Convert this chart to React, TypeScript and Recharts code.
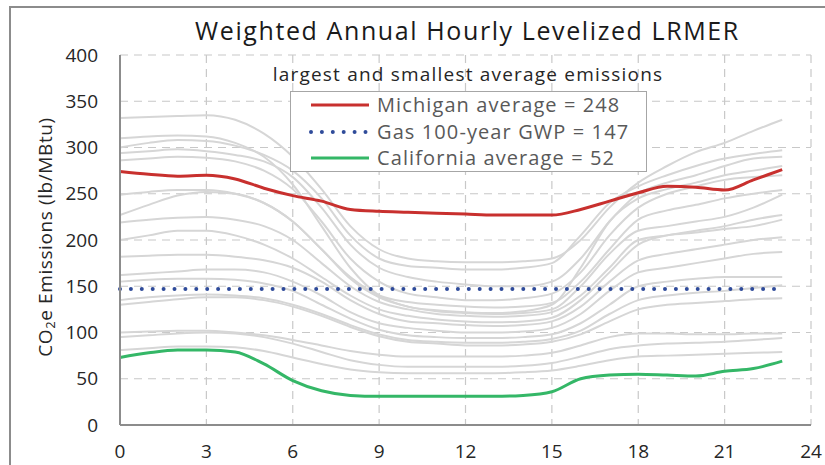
import React from 'react';
import {
  LineChart,
  Line,
  XAxis,
  YAxis,
  CartesianGrid,
  Legend,
} from 'recharts';

const hours = [0, 1, 2, 3, 4, 5, 6, 7, 8, 9, 10, 11, 12, 13, 14, 15, 16, 17, 18, 19, 20, 21, 22, 23];

const michigan = [274, 271, 269, 270, 266, 256, 248, 242, 233, 231, 230, 229, 228, 227, 227, 227, 233, 242, 251, 258, 257, 254, 265, 276];
const california = [73, 78, 81, 81, 79, 66, 48, 37, 32, 31, 31, 31, 31, 31, 32, 36, 50, 54, 55, 54, 53, 58, 61, 69];
const gasGwp = [147, 147, 147, 147, 147, 147, 147, 147, 147, 147, 147, 147, 147, 147, 147, 147, 147, 147, 147, 147, 147, 147, 147, 147];

// other states, drawn in light gray
const otherStates = [
  [332, 333, 334, 335, 330, 315, 290, 255, 215, 190, 180, 177, 176, 176, 177, 180, 200, 235, 262, 280, 295, 305, 318, 330],
  [310, 312, 313, 312, 305, 290, 260, 215, 170, 140, 128, 124, 122, 121, 123, 130, 170, 220, 245, 255, 262, 270, 275, 280],
  [300, 305, 308, 307, 302, 292, 275, 245, 205, 180, 172, 170, 168, 168, 170, 175, 205, 240, 258, 270, 280, 288, 293, 297],
  [294, 296, 298, 296, 292, 285, 268, 235, 195, 170, 160, 155, 152, 150, 150, 155, 180, 220, 250, 262, 270, 280, 288, 290],
  [286, 288, 290, 289, 285, 275, 255, 220, 180, 155, 142, 138, 135, 135, 137, 142, 165, 205, 235, 250, 258, 265, 268, 270],
  [249, 252, 254, 254, 250, 240, 220, 190, 160, 140, 133, 130, 128, 127, 128, 132, 155, 190, 222, 232, 238, 245, 250, 254],
  [227, 238, 248, 252, 250, 240, 220, 190, 158, 138, 128, 123, 121, 120, 121, 125, 150, 185, 210, 215, 220, 225, 235, 249],
  [219, 222, 224, 225, 222, 215, 200, 175, 150, 133, 125, 120, 118, 117, 118, 122, 140, 170, 200, 205, 210, 215, 222, 227],
  [200, 205, 210, 210, 205, 195, 180, 160, 140, 125, 118, 114, 112, 111, 112, 116, 135, 165, 195, 205, 208, 212, 215, 222],
  [182, 183, 184, 184, 182, 178, 170, 155, 135, 120, 112, 110, 108, 107, 108, 112, 128, 155, 178, 185, 190, 195, 200, 203],
  [162, 164, 166, 168, 168, 165, 155, 140, 122, 110, 105, 102, 100, 100, 101, 105, 120, 145, 165, 170, 175, 180, 185, 187],
  [155, 157, 158, 158, 157, 153, 145, 130, 115, 103, 97, 95, 94, 94, 95, 98, 110, 130, 150, 155, 158, 160, 160, 160],
  [135, 138, 140, 141, 140, 137, 130, 120, 108, 98, 92, 90, 89, 89, 90, 93, 102, 120, 135, 140, 143, 145, 148, 151],
  [130, 133, 136, 138, 138, 135, 128, 118, 106, 96, 90, 88, 86, 86, 87, 90, 98, 112, 125, 130, 132, 134, 136, 137],
  [100, 101, 102, 102, 100, 97, 92, 86, 80, 76, 74, 74, 74, 74, 75, 78, 86, 95, 99, 99, 98, 98, 99, 99],
  [95, 97, 99, 100, 99, 95, 88, 79, 70, 65, 63, 63, 63, 63, 64, 67, 74, 82, 86, 88, 89, 90, 92, 94],
  [81, 83, 85, 85, 84, 80, 73, 66, 60, 57, 56, 56, 56, 56, 57, 59, 64, 70, 74, 75, 76, 77, 78, 79],
];

const xTicks = [0, 3, 6, 9, 12, 15, 18, 21, 24];
const yTicks = [0, 50, 100, 150, 200, 250, 300, 350, 400];

const FONT = '"Open Sans", Lato, sans-serif';
const RED = '#C8302E';
const BLUE = '#2F4B9A';
const GREEN = '#34B767';

const data = hours.map((h, i) => {
  const row: { [key: string]: number } = {
    hour: h,
    michigan: michigan[i],
    california: california[i],
    gas: gasGwp[i],
  };
  otherStates.forEach((s, j) => {
    row[`s${j}`] = s[i];
  });
  return row;
});

const legendItems = [
  { label: 'Michigan average = 248', color: RED, dotted: false },
  { label: 'Gas 100-year GWP = 147', color: BLUE, dotted: true },
  { label: 'California average = 52', color: GREEN, dotted: false },
];

function LegendBox() {
  return (
    <div style={{ width: 440, fontFamily: FONT }}>
      <div
        style={{
          fontSize: 19,
          letterSpacing: 1.2,
          lineHeight: '22px',
          color: '#262626',
          textAlign: 'center',
          marginBottom: 6,
          whiteSpace: 'nowrap',
        }}
      >
        largest and smallest average emissions
      </div>
      <div
        style={{
          marginLeft: 42,
          width: 357,
          height: 81,
          border: '1px solid #a6a6a6',
          background: '#fff',
          boxSizing: 'border-box',
        }}
      >
        {legendItems.map((it) => (
          <div key={it.label} style={{ display: 'flex', alignItems: 'center', height: 26.5 }}>
            <svg width={86} height={10} style={{ flex: 'none' }}>
              <line
                x1={20}
                x2={78}
                y1={5}
                y2={5}
                stroke={it.color}
                strokeWidth={it.dotted ? 4 : 3}
                strokeDasharray={it.dotted ? '0 10.9' : undefined}
                strokeLinecap={it.dotted ? 'round' : 'butt'}
              />
            </svg>
            <span
              style={{
                fontSize: 20,
                letterSpacing: 1.1,
                lineHeight: '24px',
                color: '#595959',
                whiteSpace: 'nowrap',
              }}
            >
              {it.label}
            </span>
          </div>
        ))}
      </div>
    </div>
  );
}

function YLabel() {
  return (
    <text
      x={45}
      y={237}
      transform="rotate(-90 45 237)"
      textAnchor="middle"
      dominantBaseline="central"
      fontFamily={FONT}
      fontSize={19}
      letterSpacing={0.6}
      fill="#262626"
    >
      CO
      <tspan fontSize={13} dy={5}>2</tspan>
      <tspan dy={-5}>e Emissions (lb/MBtu)</tspan>
    </text>
  );
}

export default function App() {
  return (
    <div
      style={{
        position: 'absolute',
        left: 0,
        top: 0,
        width: 825,
        height: 465,
        overflow: 'hidden',
        background: '#fff',
        fontFamily: FONT,
      }}
    >
      <div
        style={{
          position: 'absolute',
          left: 9,
          top: 6,
          width: 840,
          height: 480,
          border: '2px solid #8c8c8c',
        }}
      />
      <div
        style={{
          position: 'absolute',
          left: 0,
          top: 12,
          width: 935,
          textAlign: 'center',
          fontSize: 25,
          letterSpacing: 1.6,
          lineHeight: '36px',
          color: '#1a1a1a',
          whiteSpace: 'nowrap',
        }}
      >
        Weighted Annual Hourly Levelized LRMER
      </div>
      <LineChart
        width={825}
        height={465}
        data={data}
        margin={{ top: 55, right: 14, bottom: 0, left: 0 }}
        style={{ position: 'absolute', left: 0, top: 0 }}
      >
        <CartesianGrid stroke="#c8c8c8" strokeDasharray="8 6" strokeWidth={1.2} />
        <XAxis
          dataKey="hour"
          type="number"
          domain={[0, 24]}
          ticks={xTicks}
          height={40}
          axisLine={{ stroke: '#8c8c8c', strokeWidth: 2 }}
          tickLine={false}
          tick={{ fontSize: 19, fill: '#262626', fontFamily: FONT }}
          tickMargin={14}
        />
        <XAxis
          xAxisId="top"
          orientation="top"
          dataKey="hour"
          type="number"
          domain={[0, 24]}
          height={0}
          tick={false}
          tickLine={false}
          axisLine={{ stroke: '#8c8c8c', strokeWidth: 2 }}
        />
        <YAxis
          type="number"
          domain={[0, 400]}
          ticks={yTicks}
          width={120}
          axisLine={{ stroke: '#8c8c8c', strokeWidth: 2 }}
          tickLine={false}
          tick={{ fontSize: 19, fill: '#262626', fontFamily: FONT }}
          tickMargin={16}
          label={<YLabel />}
        />
        <YAxis
          yAxisId="right"
          orientation="right"
          type="number"
          domain={[0, 400]}
          width={0}
          tick={false}
          tickLine={false}
          axisLine={{ stroke: '#8c8c8c', strokeWidth: 2 }}
        />
        {otherStates.map((_, j) => (
          <Line
            key={`s${j}`}
            dataKey={`s${j}`}
            type="monotone"
            stroke="#d6d6d6"
            strokeWidth={2}
            dot={false}
            isAnimationActive={false}
            legendType="none"
          />
        ))}
        <Line dataKey="gas" type="linear" stroke={BLUE} strokeWidth={4} strokeDasharray="0 10.9" strokeLinecap="round" dot={false} isAnimationActive={false} />
        <Line dataKey="michigan" type="monotone" stroke={RED} strokeWidth={3} dot={false} isAnimationActive={false} />
        <Line dataKey="california" type="monotone" stroke={GREEN} strokeWidth={3} dot={false} isAnimationActive={false} />
        <Legend
          layout="vertical"
          verticalAlign="middle"
          align="center"
          content={() => <LegendBox />}
          wrapperStyle={{ position: 'absolute', left: 248, top: 63, width: 440 }}
        />
      </LineChart>
    </div>
  );
}
